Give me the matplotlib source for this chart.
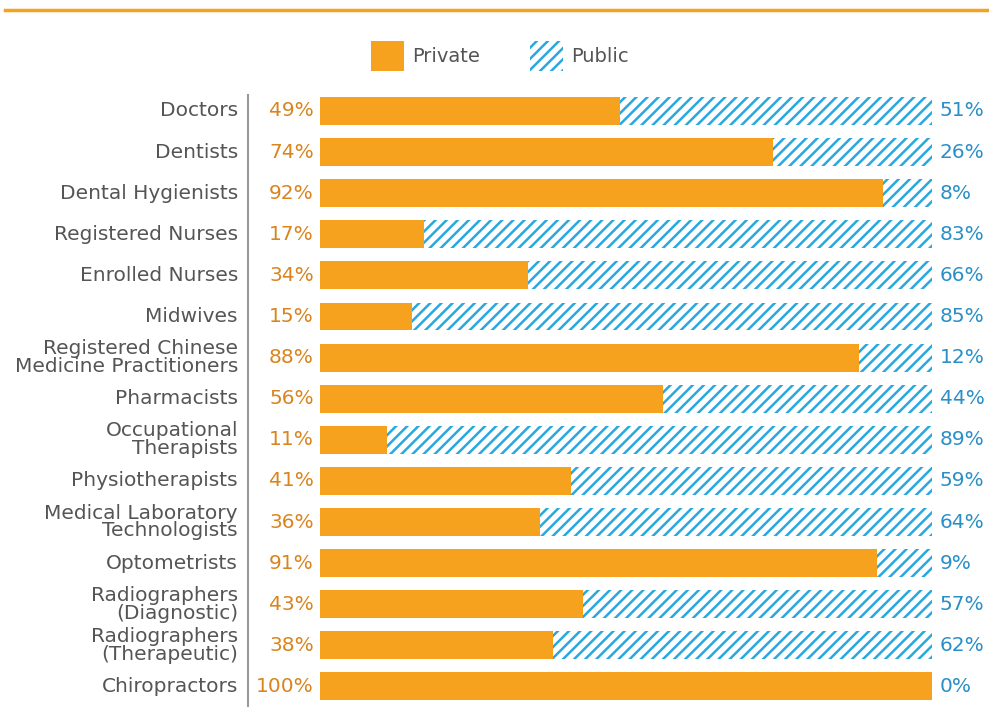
import matplotlib.pyplot as plt
from matplotlib.patches import Patch
from matplotlib.lines import Line2D

# Share of each health profession working in private vs public sector
professions = ['Doctors', 'Dentists', 'Dental Hygienists', 'Registered Nurses',
               'Enrolled Nurses', 'Midwives',
               'Registered Chinese\nMedicine Practitioners', 'Pharmacists',
               'Occupational\nTherapists', 'Physiotherapists',
               'Medical Laboratory\nTechnologists', 'Optometrists',
               'Radiographers\n(Diagnostic)', 'Radiographers\n(Therapeutic)',
               'Chiropractors']
private = [49, 74, 92, 17, 34, 15, 88, 56, 11, 41, 36, 91, 43, 38, 100]
public = [51, 26, 8, 83, 66, 85, 12, 44, 89, 59, 64, 9, 57, 62, 0]

orange = '#F7A21E'
orange_txt = '#D9841E'
blue = '#29A8E0'
blue_txt = '#2A8FC7'
grey = '#555555'

plt.rcParams['font.family'] = ['DejaVu Sans']
plt.rcParams['hatch.linewidth'] = 1.8
plt.rcParams['hatch.color'] = blue

fig = plt.figure(figsize=(9.89, 7.07), dpi=100)
ax = fig.add_axes([320 / 989, 0.0, 612 / 989, 1 - 90.4 / 707])

y = list(range(len(professions)))
ax.barh(y, private, height=0.68, color=orange, linewidth=0)
ax.barh(y, public, left=private, height=0.68, facecolor='white',
        edgecolor=blue, hatch='///', linewidth=0)

for i in y:
    ax.text(-13.4, i, professions[i], ha='right', va='center', fontsize=14.5,
            color=grey, linespacing=0.92)
    ax.text(-1.0, i, f'{private[i]}%', ha='right', va='center', fontsize=14.5,
            color=orange_txt)
    ax.text(101.3, i, f'{public[i]}%', ha='left', va='center', fontsize=14.5,
            color=blue_txt)

ax.set_xlim(0, 100)
ax.set_ylim(len(professions) - 0.5, -0.5)
ax.axis('off')

# vertical divider and top rule
fig.add_artist(Line2D([248 / 989, 248 / 989], [0, 1 - 95 / 707],
                      color='#999999', lw=1.5))
fig.add_artist(Line2D([5 / 989, 1], [1 - 10 / 707, 1 - 10 / 707],
                      color=orange, lw=2.5))

handles = [Patch(facecolor=orange, linewidth=0, label='Private'),
           Patch(facecolor='white', edgecolor=blue, hatch='///', linewidth=0,
                 label='Public')]
leg = fig.legend(handles=handles, loc='center', ncol=2, frameon=False,
                 bbox_to_anchor=(500 / 989, 1 - 56 / 707), fontsize=14,
                 handlelength=1.7, handleheight=2.05, handletextpad=0.4,
                 columnspacing=2.6)
for t in leg.get_texts():
    t.set_color(grey)

fig.savefig('out.png', dpi=100, facecolor='white')
